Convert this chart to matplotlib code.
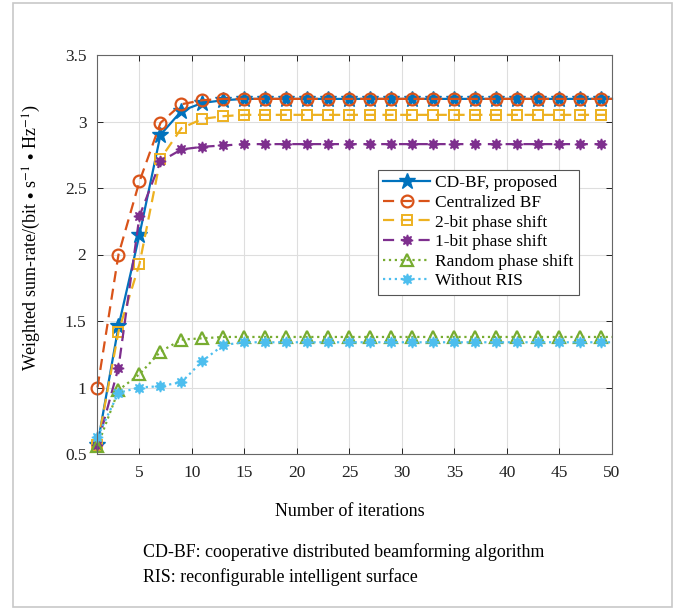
import matplotlib
matplotlib.use("Agg")
import matplotlib.pyplot as plt
from matplotlib.patches import Rectangle

plt.rcParams['font.family'] = ['Liberation Serif', 'DejaVu Serif']
plt.rcParams['mathtext.fontset'] = 'stix'

iters = [1, 3, 5, 7, 9, 11, 13, 15, 17, 19, 21, 23, 25, 27, 29, 31, 33, 35, 37, 39,
         41, 43, 45, 47, 49, 50]
cdbf = [0.57, 1.46, 2.15, 2.90, 3.08, 3.14, 3.16] + [3.17] * 19
central = [1.00, 2.00, 2.55, 2.99, 3.13, 3.16, 3.17] + [3.17] * 19
bit2 = [0.57, 1.42, 1.93, 2.72, 2.95, 3.02, 3.04] + [3.05] * 19
bit1 = [0.57, 1.15, 2.29, 2.70, 2.79, 2.81, 2.82] + [2.83] * 19
randps = [0.56, 0.98, 1.10, 1.27, 1.36, 1.37, 1.38] + [1.38] * 19
noris = [0.63, 0.96, 1.00, 1.01, 1.04, 1.20, 1.32] + [1.34] * 19

labels = ["CD-BF, proposed", "Centralized BF", "2-bit phase shift",
          "1-bit phase shift", "Random phase shift", "Without RIS"]
xticks = [5, 10, 15, 20, 25, 30, 35, 40, 45, 50]
yticks = [0.5, 1, 1.5, 2, 2.5, 3, 3.5]
ytick_labels = ["0.5", "1", "1.5", "2", "2.5", "3", "3.5"]

W, H = 679, 609
fig = plt.figure(figsize=(W / 100, H / 100), dpi=100)
ax = fig.add_axes([97.5 / W, 1 - 454 / H, (612 - 97.5) / W, (454 - 55) / H])

blob = (8, 1, 0)
me = slice(0, 25)
common = dict(lw=1.6, markevery=me, clip_on=False)
ax.plot(iters, cdbf, '-', color='#0072BD', marker='*', ms=12, mfc='#0072BD',
        mec='#0072BD', label=labels[0], **common)
ax.plot(iters, central, '--', color='#D95319', marker='o', ms=8.5, mfc='none',
        mec='#D95319', mew=1.6, label=labels[1], dashes=(5, 3), **common)
ax.plot(iters, bit2, '--', color='#EDB120', marker='s', ms=6.5, mfc='none',
        mec='#EDB120', mew=1.4, label=labels[2], dashes=(5, 3), **common)
ax.plot(iters, bit1, '--', color='#7E2F8E', marker=blob, ms=8, mfc='#7E2F8E',
        mec='#7E2F8E', label=labels[3], dashes=(5, 3), **common)
ax.plot(iters, randps, ':', color='#77AC30', marker='^', ms=8.5, mfc='none',
        mec='#77AC30', mew=1.6, label=labels[4], **common)
ax.plot(iters, noris, ':', color='#4DBEEE', marker=blob, ms=8, mfc='#4DBEEE',
        mec='#4DBEEE', label=labels[5], **common)

ax.set_xlim(1, 50)
ax.set_ylim(0.5, 3.5)
ax.set_xticks(xticks)
ax.set_yticks(yticks)
ax.set_yticklabels(ytick_labels)
ax.grid(True, color='#dedede', lw=0.8)
ax.set_axisbelow(True)
ax.tick_params(direction='in', top=True, right=True, labelsize=12.5,
               colors='#222222', length=4, width=0.7, pad=8)
for s in ax.spines.values():
    s.set_color('#666666')
    s.set_linewidth(0.8)

ax.set_xlabel("Number of iterations", fontsize=13)
ax.set_ylabel(r"Weighted sum-rate/(bit$\,\bullet\,$s$^{-1}$$\,\bullet\,$Hz$^{-1}$)",
              fontsize=13)
ax.xaxis.set_label_coords(0.5 - 5 / 514.5, (454 - 512) / 399)
ax.yaxis.set_label_coords((32 - 97.5) / 514.5, (454 - 238) / 399)
ax.xaxis.label.set_va('center')
ax.yaxis.label.set_va('center')

leg = ax.legend(loc='upper left', bbox_to_anchor=(0.545, 0.712), fontsize=12.5,
                frameon=True, fancybox=False, edgecolor='#555555', framealpha=1,
                handlelength=2.7, handletextpad=0.3, borderpad=0.3,
                labelspacing=0.2, borderaxespad=0)
leg.get_frame().set_linewidth(0.8)

fig.text(143 / W, 1 - 552 / H, "CD-BF: cooperative distributed beamforming algorithm",
         fontsize=12.9, va='center', ha='left')
fig.text(143 / W, 1 - 577 / H, "RIS: reconfigurable intelligent surface",
         fontsize=12.9, va='center', ha='left')

fig.patches.append(Rectangle((13 / W, 1 - 607 / H), (672 - 13) / W, (607 - 3) / H,
                             transform=fig.transFigure, fill=False,
                             edgecolor='#c8c8c8', lw=1.2))

fig.savefig("out.png", dpi=100)
